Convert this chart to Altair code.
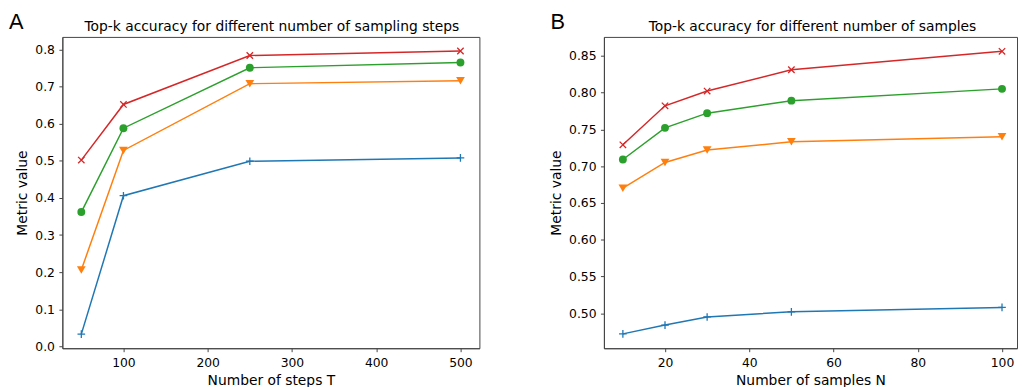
import altair as alt
import pandas as pd

series = ["top-1", "top-3", "top-5", "top-10"]
colors = ["#1f77b4", "#ff7f0e", "#2ca02c", "#d62728"]

# Panel A: number of sampling steps
steps_T = [50, 100, 250, 500]
steps_top1 = [0.033, 0.406, 0.499, 0.508]
steps_top3 = [0.206, 0.528, 0.708, 0.716]
steps_top5 = [0.362, 0.588, 0.751, 0.765]
steps_top10 = [0.502, 0.652, 0.784, 0.796]
steps_xticks = [100, 200, 300, 400, 500]
steps_yticks = [0.0, 0.1, 0.2, 0.3, 0.4, 0.5, 0.6, 0.7, 0.8]

# Panel B: number of samples
samples_N = [10, 20, 30, 50, 100]
samples_top1 = [0.472, 0.484, 0.495, 0.502, 0.508]
samples_top3 = [0.670, 0.705, 0.722, 0.733, 0.740]
samples_top5 = [0.709, 0.752, 0.772, 0.789, 0.805]
samples_top10 = [0.729, 0.782, 0.802, 0.831, 0.856]
samples_xticks = [20, 40, 60, 80, 100]
samples_yticks = [0.50, 0.55, 0.60, 0.65, 0.70, 0.75, 0.80, 0.85]

# marker styles (shape, filled, size, strokeWidth)
marker_specs = [
    ("M-1,0L1,0M0,-1L0,1", False, 60, 1.3),
    ("triangle-down", True, 78, 1),
    ("circle", True, 64, 1),
    ("M-1,-1L1,1M-1,1L1,-1", False, 42, 1.3),
]
# legend symbols: line + marker (unit = 5 px)
legend_paths = [
    "M-1.4,0L1.4,0M0,-0.75L0,0.75",
    "M-1.4,0L1.4,0M-0.9,-0.75L0.9,-0.75L0,0.8Z",
    "M-1.4,0L1.4,0M-0.8,0A0.8,0.8 0 1,1 0.8,0A0.8,0.8 0 1,1 -0.8,0Z",
    "M-1.4,0L1.4,0M-0.65,-0.65L0.65,0.65M-0.65,0.65L0.65,-0.65",
]

FONT = "DejaVu Sans"


def make_panel(x_vals, y_lists, x_dom, y_dom, x_ticks, y_ticks, y_fmt,
               title, x_title, letter, leg, w, h, title_cx):
    rows = [
        {"x": x, "y": y, "series": s}
        for s, yl in zip(series, y_lists)
        for x, y in zip(x_vals, yl)
    ]
    df = pd.DataFrame(rows)
    xs = alt.Scale(domain=x_dom, nice=False, zero=False)
    yscale = alt.Scale(domain=y_dom, nice=False, zero=False)
    x_main = alt.X("x:Q", scale=xs,
                   axis=alt.Axis(values=x_ticks, title=x_title, format="d"))
    y_main = alt.Y("y:Q", scale=yscale,
                   axis=alt.Axis(values=y_ticks, title="Metric value", format=y_fmt))
    x_other = alt.X("x:Q", scale=xs, axis=None)
    y_other = alt.Y("y:Q", scale=yscale, axis=None)

    cscale = alt.Scale(domain=series, range=colors)
    base = alt.Chart(df)

    lines = base.mark_line(strokeWidth=1.5).encode(
        x=x_main, y=y_main,
        color=alt.Color("series:N", scale=cscale, legend=None),
    )
    pts = []
    for s, (shape, filled, size, sw) in zip(series, marker_specs):
        pts.append(
            base.transform_filter(alt.datum.series == s)
            .mark_point(shape=shape, filled=filled, size=size,
                        strokeWidth=sw, opacity=1)
            .encode(x=x_other, y=y_other,
                    color=alt.Color("series:N", scale=cscale, legend=None))
        )

    legend_layer = base.mark_point(
        filled=True, opacity=1, strokeWidth=1.5, size=0
    ).encode(
        x=x_other, y=y_other,
        fill=alt.Fill("series:N", scale=alt.Scale(domain=series, range=colors), legend=leg),
        stroke=alt.Stroke("series:N", scale=alt.Scale(domain=series, range=colors), legend=leg),
        shape=alt.Shape("series:N", scale=alt.Scale(domain=series, range=legend_paths), legend=leg),
    )

    text_df = pd.DataFrame({"t": [letter]})
    letter_layer = alt.Chart(text_df).mark_text(
        font="Liberation Sans", fontSize=22, align="left",
        baseline="alphabetic", color="black"
    ).encode(text="t:N", x=alt.value(-54), y=alt.value(-8))

    title_df = pd.DataFrame({"t": [title]})
    title_layer = alt.Chart(title_df).mark_text(
        font=FONT, fontSize=14, align="center", baseline="alphabetic", color="black"
    ).encode(text="t:N", x=alt.value(title_cx), y=alt.value(-6.5))

    layered = alt.layer(lines, *pts, legend_layer, letter_layer, title_layer)
    layered = layered.resolve_axis(x="independent", y="independent")
    return layered.properties(width=w, height=h)


leg_a = alt.Legend(
    title=None, orient="none", legendX=342, legendY=235,
    symbolSize=100, symbolStrokeWidth=1.5,
    labelFontSize=14, labelFont=FONT,
    labelColor="black", strokeColor="#cccccc", fillColor="white",
)
leg_b = alt.Legend(
    title=None, orient="none", legendX=341, legendY=121,
    symbolSize=100, symbolStrokeWidth=1.5,
    labelFontSize=14, labelFont=FONT,
    labelColor="black", strokeColor="#cccccc", fillColor="white",
)

panel_a = make_panel(
    steps_T, [steps_top1, steps_top3, steps_top5, steps_top10],
    [27.5, 522.5], [-0.005, 0.834], steps_xticks, steps_yticks, ".1f",
    "Top-k accuracy for different number of sampling steps", "Number of steps T",
    "A", leg_a, 422, 315, 212,
)
panel_b = make_panel(
    samples_N, [samples_top1, samples_top3, samples_top5, samples_top10],
    [5.5, 103.56], [0.4525, 0.8756], samples_xticks, samples_yticks, ".2f",
    "Top-k accuracy for different number of samples", "Number of samples N",
    "B", leg_b, 418, 315, 211,
)

chart = alt.hconcat(panel_a, panel_b, spacing=69).properties(
    padding=0
).configure_view(stroke="#444444").configure_axis(
    grid=False, domainColor="#444444", domainWidth=1, tickColor="#444444",
    tickSize=3.5, tickWidth=1, labelFont=FONT, labelFontSize=12.5,
    labelColor="black", labelPadding=4.5, titleFont=FONT, titleFontSize=14,
    titleFontWeight="normal", titleColor="black", titlePadding=5,
)

chart.save("out.html", embed_options={"renderer": "svg", "actions": False})
